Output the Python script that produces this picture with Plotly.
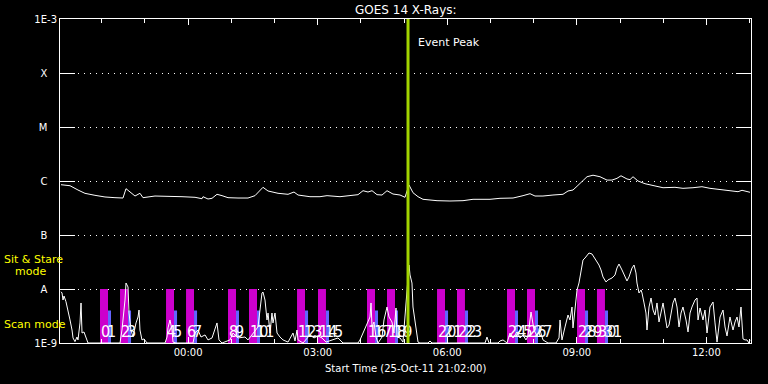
import plotly.graph_objects as go
import pandas as pd

# ---------------- data ----------------
START = pd.Timestamp("2011-10-25 21:02:00")
END = START + pd.Timedelta(hours=16)

# GOES 14 long channel (upper curve): minutes after start, flux (W/m^2)
long_min = [1.4, 13.9, 25.0, 34.7, 48.6, 62.5, 76.4, 87.5, 91.7, 97.3,
            104.2, 111.1, 115.3, 132.0, 155.6, 169.5, 187.6, 197.3, 198.7, 205.6,
            211.2, 218.1, 225.1, 233.4, 247.3, 261.2, 270.9, 282.0, 289.0, 302.9,
            316.8, 325.1, 330.7, 347.3, 361.2, 371.0, 389.0, 402.9, 414.0, 421.0,
            427.9, 433.5, 440.4, 447.4, 454.3, 462.6, 472.4, 479.3, 484.9, 490.4,
            497.4, 504.3, 523.8, 541.8, 559.9, 573.8, 597.4, 611.3, 629.4, 643.3,
            653.0, 659.9, 671.0, 684.9, 698.8, 705.8, 712.7, 718.3, 725.2, 732.2,
            740.5, 750.2, 759.9, 766.9, 773.8, 779.4, 787.7, 791.9, 796.1, 803.0,
            812.7, 823.9, 837.8, 854.4, 865.5, 879.4, 891.9, 903.0, 916.9, 930.8,
            942.0, 947.5, 958.6]
long_flux = [8.53e-7, 8.18e-7, 6.81e-7, 5.91e-7, 5.43e-7, 5.06e-7, 4.91e-7, 4.84e-7, 7.2e-7, 6.34e-7,
             5.27e-7, 5.92e-7, 4.91e-7, 5.27e-7, 5.27e-7, 5.12e-7, 4.99e-7, 4.70e-7, 5.12e-7, 4.64e-7,
             4.78e-7, 5.67e-7, 5.35e-7, 4.91e-7, 4.84e-7, 4.84e-7, 5.35e-7, 7.64e-7, 6.53e-7, 5.92e-7,
             5.67e-7, 6.25e-7, 5.5e-7, 5.12e-7, 5.12e-7, 5.35e-7, 5.12e-7, 5.35e-7, 5.58e-7, 6.61e-7,
             6.25e-7, 6.61e-7, 5.58e-7, 5.5e-7, 6.61e-7, 5.74e-7, 5.5e-7, 4.99e-7, 8.43e-7, 6.07e-7,
             5.12e-7, 4.58e-7, 4.32e-7, 4.26e-7, 4.32e-7, 4.58e-7, 4.58e-7, 4.78e-7, 4.84e-7, 5.35e-7,
             5.82e-7, 5.27e-7, 5.27e-7, 5.5e-7, 5.67e-7, 6.53e-7, 6.81e-7, 7.98e-7, 1.0e-6, 1.20e-6,
             1.28e-6, 1.20e-6, 1.04e-6, 1.04e-6, 1.12e-6, 1.25e-6, 1.09e-6, 1.06e-6, 1.20e-6, 1.0e-6,
             8.91e-7, 8.18e-7, 7.51e-7, 7.64e-7, 7.32e-7, 7.51e-7, 7.84e-7, 7.32e-7, 6.9e-7, 6.61e-7,
             6.34e-7, 6.73e-7, 6.18e-7]

# GOES 14 short channel (lower curve): minutes after start, flux (W/m^2)
short_min = [1.4, 2.8, 4.2, 5.6, 8.3, 11.1, 13.9, 16.7, 18.1, 20.8,
             23.6, 25.0, 27.8, 29.2, 30.6, 33.3, 37.5, 38.9, 83.4, 86.1,
             90.3, 91.7, 94.5, 95.9, 98.6, 101.4, 105.6, 108.4, 109.8, 111.1,
             113.9, 116.7, 120.9, 145.9, 148.7, 150.0, 152.8, 155.6, 157.0, 161.2,
             184.8, 187.6, 191.7, 195.9, 201.5, 205.6, 211.2, 218.1, 220.9, 225.1,
             236.2, 240.3, 247.3, 257.0, 261.2, 270.9, 275.1, 280.6, 282.0, 284.8,
             287.6, 289.0, 291.8, 294.5, 295.9, 298.7, 301.5, 305.6, 309.8, 316.8,
             323.7, 326.5, 329.3, 330.7, 337.6, 347.3, 352.9, 358.4, 364.0, 369.6,
             379.3, 386.2, 393.2, 414.0, 416.8, 421.0, 425.1, 427.9, 430.7, 432.1,
             433.5, 436.2, 439.0, 441.8, 447.4, 450.1, 452.9, 454.3, 457.1, 461.2,
             464.0, 466.8, 468.2, 472.4, 476.5, 480.7, 483.5, 484.9, 486.3, 489.0,
             490.4, 493.2, 496.0, 497.4, 500.1, 511.3, 514.0, 516.8, 590.5, 593.2,
             596.0, 608.5, 611.3, 615.5, 621.0, 625.2, 629.4, 634.9, 639.1, 643.2,
             647.4, 650.2, 654.4, 658.5, 662.7, 666.9, 671.0, 678.0, 689.1, 693.3,
             694.7, 697.4, 701.6, 705.8, 708.5, 711.3, 712.7, 715.5, 718.3, 721.0,
             723.8, 725.2, 726.6, 729.4, 732.2, 734.9, 739.1, 741.9, 746.0, 748.8,
             751.6, 754.4, 758.6, 761.3, 766.9, 771.1, 773.8, 776.6, 780.8, 785.0,
             787.7, 790.5, 794.7, 797.5, 800.2, 801.6, 804.4, 807.2, 808.6, 811.4,
             814.1, 815.5, 818.3, 821.1, 823.9, 826.6, 829.4, 832.2, 836.4, 837.8,
             840.5, 843.3, 846.1, 848.9, 851.6, 854.4, 857.2, 860.0, 862.8, 865.5,
             869.7, 872.5, 875.3, 878.0, 882.2, 885.0, 886.4, 889.2, 893.3, 896.1,
             898.9, 903.0, 907.2, 910.0, 912.8, 917.0, 921.1, 923.9, 926.7, 930.8,
             935.0, 937.8, 940.6, 943.3, 946.1, 948.9, 951.7, 954.4, 957.2, 958.6]
short_flux = [8.9e-9, 8.43e-9, 6.25e-9, 7.42e-9, 5.82e-9, 4.08e-9, 2.67e-9, 1.74e-9, 1.24e-9, 1.06e-9,
              1.29e-9, 1.14e-9, 2.35e-9, 5.51e-9, 1.53e-9, 1.6e-9, 1.14e-9, 1e-9, 1e-9, 1.74e-9,
              6.25e-9, 1.29e-8, 1.09e-8, 3.59e-9, 1.74e-9, 1.29e-9, 2.35e-9, 3.03e-9, 4.08e-9, 1.74e-9,
              1.14e-9, 1.19e-9, 1e-9, 1e-9, 1.29e-9, 1.9e-9, 2.67e-9, 1.74e-9, 1.04e-9, 1e-9,
              1e-9, 1.53e-9, 1.74e-9, 1.29e-9, 1.41e-9, 1.14e-9, 1.24e-9, 2.35e-9, 1.14e-9, 1e-9,
              1.14e-9, 1.53e-9, 1.24e-9, 1.29e-9, 1.14e-9, 1.74e-9, 1.98e-9, 8.43e-9, 8.8e-9, 6.25e-9,
              2.67e-9, 3.59e-9, 1.53e-9, 3.59e-9, 2.35e-9, 3.59e-9, 1.53e-9, 1.29e-9, 1.14e-9, 1.04e-9,
              1.53e-9, 1.09e-9, 1.74e-9, 1.14e-9, 1e-9, 1.41e-9, 1.24e-9, 1.35e-9, 1.24e-9, 1.04e-9,
              1.14e-9, 1.24e-9, 1e-9, 1e-9, 1.14e-9, 1.53e-9, 1.98e-9, 2.45e-9, 3.03e-9, 5.51e-9,
              1.98e-9, 2.45e-9, 1.29e-9, 1e-9, 1.29e-9, 2.67e-9, 4.08e-9, 4.64e-9, 3.03e-9, 2.45e-9,
              1.53e-9, 4.45e-9, 1.29e-9, 1.24e-9, 1.04e-9, 6.25e-9, 1.47e-8, 2.78e-8, 1.82e-8, 1.29e-8,
              4.64e-9, 2.67e-9, 1.53e-9, 1.04e-9, 1e-9, 1e-9, 1.09e-9, 1e-9, 1e-9, 1.29e-9,
              1e-9, 1e-9, 1.09e-9, 1.14e-9, 1e-9, 1.53e-9, 1.24e-9, 1.6e-9, 1.24e-9, 1.41e-9,
              1.14e-9, 1.35e-9, 3.75e-9, 1.74e-9, 1.35e-9, 1.74e-9, 1.14e-9, 1e-9, 1e-9, 1.24e-9,
              2.67e-9, 1.14e-9, 1.98e-9, 3.3e-9, 2.67e-9, 4.64e-9, 1.9e-9, 4.08e-9, 9.58e-9, 1.29e-8,
              1.98e-8, 2.56e-8, 3.44e-8, 3.75e-8, 4.26e-8, 4.64e-8, 4.45e-8, 3.91e-8, 3.16e-8, 2.78e-8,
              2.25e-8, 1.67e-8, 1.35e-8, 1.47e-8, 1.6e-8, 1.82e-8, 2.45e-8, 2.9e-8, 2.25e-8, 1.67e-8,
              1.41e-8, 1.67e-8, 2.45e-8, 2.78e-8, 1.98e-8, 1.29e-8, 8.43e-9, 9.58e-9, 8.43e-9, 5.51e-9,
              3.59e-9, 1.74e-9, 4.64e-9, 6.81e-9, 4.08e-9, 3.3e-9, 5.51e-9, 2.45e-9, 4.64e-9, 5.51e-9,
              3.3e-9, 1.9e-9, 2.15e-9, 3.75e-9, 5.51e-9, 6.81e-9, 4.64e-9, 1.98e-9, 3.59e-9, 4.64e-9,
              2.67e-9, 1.6e-9, 3.59e-9, 4.64e-9, 6.25e-9, 6.81e-9, 2.67e-9, 4.45e-9, 2.67e-9, 4.08e-9,
              1.53e-9, 4.64e-9, 5.74e-9, 2.35e-9, 1.04e-9, 3.03e-9, 4.08e-9, 1.98e-9, 1.35e-9, 3.03e-9,
              1.74e-9, 2.45e-9, 3.03e-9, 1.98e-9, 4.64e-9, 1.19e-9, 1.14e-9, 1.14e-9, 1e-9, 1.14e-9]

# Observation windows (minutes after start): sit & stare (magenta) followed by scan (blue)
obs_start_min = [55.6, 83.4, 147.3, 175.1, 233.4, 262.6, 329.3, 358.4,
                 426.5, 454.3, 523.8, 551.5, 621.0, 648.8, 718.3, 746.0]
sit_duration_min = 11.1
scan_duration_min = 4.2
sit_level = 1e-8       # top of magenta bars
scan_level = 4e-9      # top of blue bars
floor_level = 1e-9

obs_labels = ["0", "1", "2", "3", "4", "5", "6", "7", "8", "9",
              "10", "11", "12", "13", "14", "15", "16", "17", "18", "19",
              "20", "21", "22", "23", "24", "25", "26", "27", "28", "29",
              "30", "31"]

event_peak_min = 483.5

y_tickvals = [1e-9, 1e-8, 1e-7, 1e-6, 1e-5, 1e-4, 1e-3]
y_ticktext = ["1E-9", "A", "B", "C", "M", "X", "1E-3"]

# ---------------- helpers ----------------
def t(m):
    return START + pd.Timedelta(minutes=m)

NB = "\u00a0"
ytext = [s if s.startswith("1E") else s + NB * 3 for s in y_ticktext]

long_t = [t(m) for m in long_min]
short_t = [t(m) for m in short_min]
sit_t = [t(m) for m in obs_start_min]
scan_t = [t(m + sit_duration_min) for m in obs_start_min]
lab_t = []
for m in obs_start_min:
    lab_t.append(t(m + 1.4))
    lab_t.append(t(m + 9.7))

MS = 60000.0
MAGENTA = "#CC00CC"
BLUE = "#6464FF"
GREEN = "#A2D400"
YELLOW = "#FFFF00"
FONT = "DejaVu Sans"

fig = go.Figure()

fig.add_trace(go.Bar(x=sit_t, y=[sit_level - floor_level] * len(sit_t), base=floor_level,
                     width=sit_duration_min * MS, offset=0,
                     marker=dict(color=MAGENTA, line=dict(width=0))))
fig.add_trace(go.Bar(x=scan_t, y=[scan_level - floor_level] * len(scan_t), base=floor_level,
                     width=scan_duration_min * MS, offset=0,
                     marker=dict(color=BLUE, line=dict(width=0))))

fig.add_trace(go.Scatter(x=long_t, y=long_flux, mode="lines",
                         line=dict(color="white", width=1)))
fig.add_trace(go.Scatter(x=short_t, y=short_flux, mode="lines",
                         line=dict(color="white", width=1)))

fig.add_trace(go.Scatter(x=lab_t, y=[1.55e-9] * len(lab_t), mode="text",
                         text=obs_labels, textposition="middle right",
                         textfont=dict(family="Liberation Sans Narrow, DejaVu Sans Condensed, Liberation Sans",
                                       size=16, color="white")))

fig.add_shape(type="line", xref="x", yref="paper",
              x0=t(event_peak_min), x1=t(event_peak_min), y0=0, y1=1,
              line=dict(color=GREEN, width=3), layer="above")

fig.add_annotation(x=t(event_peak_min), xref="x", y=0.926, yref="paper",
                   text="Event Peak", showarrow=False, xanchor="left", yanchor="middle",
                   xshift=8, font=dict(family=FONT, size=11, color="white"))

fig.add_annotation(x=0.5, xref="paper", y=1.0, yref="paper", yshift=9,
                   text="GOES 14 X-Rays:", showarrow=False, xanchor="center", yanchor="middle",
                   font=dict(family=FONT, size=12, color="white"))

fig.add_annotation(x=0.5, xref="paper", y=-0.0772, yref="paper",
                   text="Start Time (25-Oct-11 21:02:00)", showarrow=False,
                   xanchor="center", yanchor="middle",
                   font=dict(family=FONT, size=10, color="white"))

fig.add_annotation(x=-0.0839, xref="paper", y=0.259, yref="paper",
                   text="Sit & Stare", showarrow=False, xanchor="left", yanchor="middle",
                   font=dict(family=FONT, size=11, color=YELLOW))
fig.add_annotation(x=-0.0680, xref="paper", y=0.222, yref="paper",
                   text="mode", showarrow=False, xanchor="left", yanchor="middle",
                   font=dict(family=FONT, size=11, color=YELLOW))
fig.add_annotation(x=-0.0839, xref="paper", y=0.0586, yref="paper",
                   text="Scan mode", showarrow=False, xanchor="left", yanchor="middle",
                   font=dict(family=FONT, size=11, color=YELLOW))

fig.update_layout(
    width=768, height=384,
    margin=dict(l=60, r=17, t=19, b=41),
    paper_bgcolor="black", plot_bgcolor="black",
    showlegend=False, barmode="overlay", hovermode=False,
    font=dict(family=FONT, size=10, color="white"),
)
fig.update_xaxes(
    type="date", range=[START, END],
    tick0="2011-10-26 00:00:00", dtick=3 * 3600000, tickformat="%H:%M",
    ticks="inside", ticklen=6, tickcolor="white", tickwidth=1,
    minor=dict(dtick=3600000, ticks="inside", ticklen=4, tickcolor="white", showgrid=False),
    showline=True, linecolor="white", linewidth=1, mirror="ticks",
    showgrid=False, zeroline=False,
    tickfont=dict(family=FONT, size=10, color="white"),
)
fig.update_yaxes(
    type="log", range=[-9, -3],
    tickvals=y_tickvals, ticktext=ytext,
    ticks="inside", ticklen=15, tickcolor="white", tickwidth=1,
    showline=True, linecolor="white", linewidth=1, mirror="ticks",
    showgrid=True, gridcolor="white", gridwidth=1, griddash="1px,5px",
    zeroline=False,
    tickfont=dict(family=FONT, size=10, color="white"),
)

fig.write_html("out.html", config={"displayModeBar": False},
               post_script="document.body.style.margin='0px';document.body.style.background='black';")
